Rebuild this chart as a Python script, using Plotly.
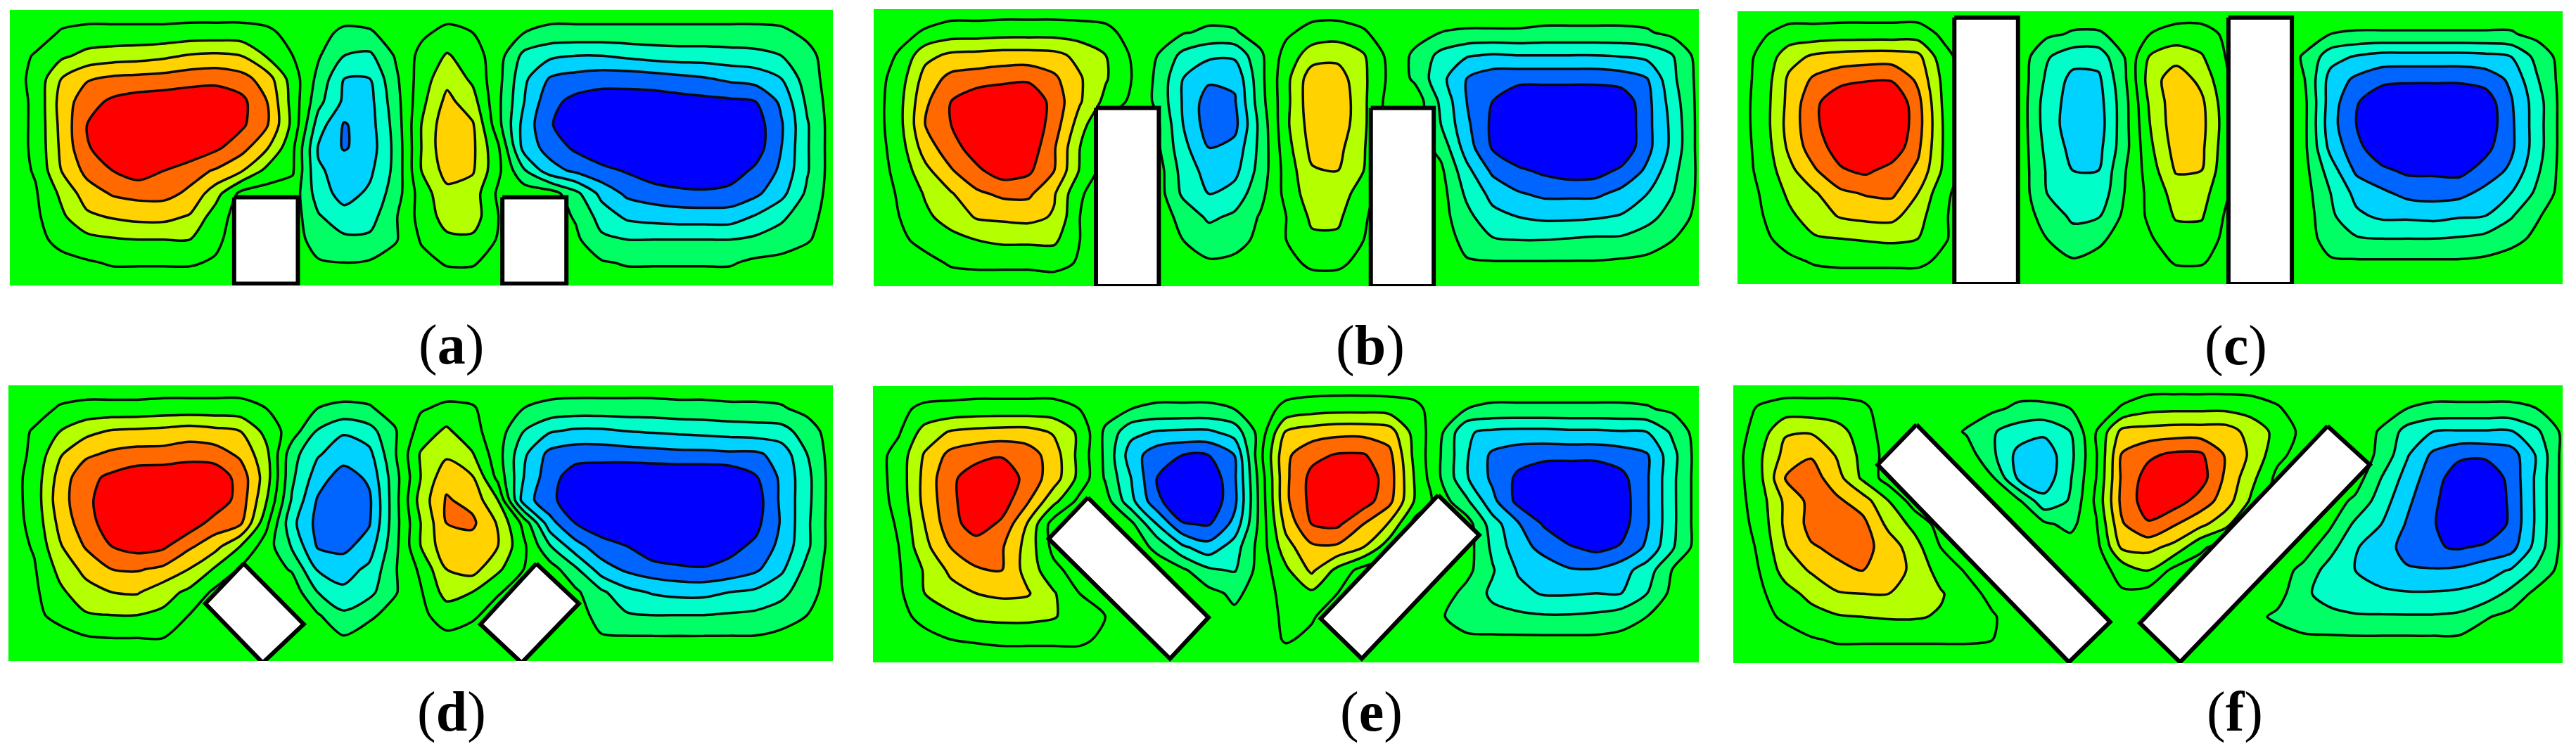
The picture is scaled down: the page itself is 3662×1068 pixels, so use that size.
import plotly.graph_objects as go

W, H = 3662, 1068
ZERO = [0] * 33

z_a = [ZERO,
[0,0,6,8,8,8,8,9,9,9,7,2,-2,-7,-6,-1,3,8,5,1,-5,-8,-8,-8,-8,-8,-8,-8,-8,-8,-7,-3,0],
[0,6,13,18,20,21,23,26,27,25,14,5,-4,-15,-17,-4,8,16,10,-1,-18,-23,-25,-25,-23,-21,-20,-20,-19,-18,-15,-8,0],
[0,8,25,34,37,38,39,41,42,39,30,10,-8,-25,-25,-7,10,22,13,-2,-23,-36,-39,-41,-41,-40,-38,-36,-33,-31,-25,-10,0],
[0,7,29,41,47,50,51,52,52,48,35,11,-12,-27,-28,-9,12,28,19,-3,-25,-42,-48,-50,-50,-50,-49,-48,-47,-45,-33,-13,0],
[0,7,28,45,52,55,55,55,53,47,36,12,-20,-36,-29,-11,15,32,26,-2,-29,-44,-52,-55,-56,-56,-56,-56,-55,-50,-36,-16,0],
[0,7,27,44,51,54,55,54,47,39,26,7,-26,-36,-30,-12,15,33,27,6,-29,-39,-47,-53,-55,-56,-56,-56,-56,-50,-35,-16,0],
[0,6,25,38,45,50,45,39,34,26,12,6,-24,-28,-27,-12,15,29,26,7,-14,-31,-37,-42,-46,-51,-54,-54,-50,-43,-33,-16,0],
[0,4,17,30,36,38,38,33,19,2,0,1,-20,-29,-23,-10,10,22,20,3,1,0,-12,-28,-37,-40,-42,-43,-42,-37,-28,-13,0],
[0,3,13,23,26,28,28,24,10,0,0,0,-14,-21,-19,-6,9,19,20,5,0,0,-6,-19,-27,-29,-30,-30,-30,-24,-17,-9,0],
[0,2,8,12,14,15,15,15,7,0,0,0,-10,-13,-13,-6,6,13,13,4,0,0,-3,-13,-15,-15,-15,-15,-15,-13,-10,-6,0],
[0,0,2,4,6,6,6,6,4,0,0,0,-4,-5,-4,0,2,6,6,1,0,0,0,-4,-6,-6,-6,-6,-6,-3,-2,0,0],
ZERO]

z_b = [ZERO,
[0,2,6,10,10,11,11,11,10,8,1,0,-4,-7,-6,0,3,9,10,6,0,-1,-5,-6,-6,-6,-7,-7,-7,-7,-6,-2,0],
[0,6,22,27,28,29,29,28,22,15,4,-5,-18,-23,-23,-7,9,20,22,16,2,-7,-18,-24,-26,-25,-25,-25,-25,-24,-22,-15,-1],
[0,10,29,38,40,42,43,37,26,16,5,-7,-25,-33,-33,-8,12,31,30,17,3,-7,-22,-35,-41,-42,-42,-42,-42,-40,-35,-17,-2],
[0,12,33,45,52,54,54,41,26,12,3,-7,-26,-40,-36,-9,12,32,33,17,1,1,-17,-35,-45,-52,-53,-53,-53,-52,-38,-20,-2],
[0,12,35,45,53,55,54,40,20,2,0,-3,-25,-40,-38,-12,13,30,32,17,0,0,-15,-33,-47,-54,-55,-55,-55,-54,-38,-22,-2],
[0,10,30,41,50,54,52,36,15,1,0,-3,-22,-35,-32,-12,11,28,28,16,0,0,-8,-30,-46,-54,-55,-55,-55,-53,-38,-22,-2],
[0,8,22,34,43,50,47,35,14,0,0,0,-19,-29,-28,-11,9,24,25,15,0,0,-3,-22,-37,-43,-47,-50,-49,-43,-33,-18,-3],
[0,6,16,24,33,37,37,26,6,0,0,0,-17,-25,-21,-8,8,21,22,8,0,0,-1,-17,-28,-34,-37,-37,-37,-32,-25,-15,-3],
[0,5,13,19,26,27,28,24,5,0,0,0,-8,-17,-13,-4,5,17,17,6,0,0,-1,-12,-22,-25,-27,-27,-26,-24,-18,-11,-2],
[0,3,8,12,15,17,17,17,5,0,0,0,-5,-9,-8,-3,5,13,13,5,0,0,0,-8,-14,-15,-15,-14,-13,-13,-10,-5,-1],
[0,0,2,6,7,7,7,8,4,0,0,0,-3,-4,-3,0,2,7,7,2,0,0,0,-4,-4,-4,-4,-4,-4,-3,-2,0,0],
ZERO]

z_c = [ZERO,
[0,4,9,9,10,10,10,10,3,0,0,0,-3,-6,-6,-2,5,9,9,3,0,0,-1,-5,-6,-6,-6,-6,-6,-6,-6,-2,0],
[0,8,21,27,29,30,30,28,8,0,0,0,-14,-21,-21,-5,16,21,16,4,0,0,-6,-21,-26,-29,-29,-29,-29,-28,-25,-12,-1],
[0,9,27,37,42,44,44,33,12,0,0,0,-17,-28,-27,-7,20,31,22,6,0,0,-5,-29,-37,-42,-43,-43,-43,-41,-33,-16,-1],
[0,10,28,43,52,55,55,38,13,0,0,0,-20,-29,-29,-9,17,31,27,8,0,0,-3,-30,-44,-53,-55,-55,-55,-51,-36,-20,-1],
[0,10,29,43,53,57,56,39,14,0,0,0,-20,-30,-30,-9,15,31,28,9,0,0,-3,-31,-45,-56,-57,-57,-57,-52,-37,-20,-1],
[0,9,27,41,49,54,52,37,14,0,0,0,-18,-28,-28,-9,13,29,27,8,0,0,-3,-28,-42,-52,-56,-56,-55,-48,-37,-20,-1],
[0,8,22,34,44,47,41,33,13,0,0,0,-16,-25,-25,-6,10,26,25,7,0,0,-2,-20,-37,-43,-47,-47,-48,-41,-33,-17,-1],
[0,6,17,24,33,36,37,25,7,0,0,0,-15,-23,-22,-5,8,19,19,6,0,0,-1,-15,-28,-33,-38,-39,-38,-32,-25,-13,-1],
[0,5,13,20,26,28,28,19,6,0,0,0,-9,-17,-16,-3,7,16,16,3,0,0,0,-13,-23,-27,-27,-28,-26,-25,-16,-6,0],
[0,3,9,14,15,16,17,15,6,0,0,0,-5,-11,-7,-1,4,11,11,2,0,0,-1,-9,-14,-15,-15,-15,-14,-12,-8,-3,0],
[0,0,3,6,7,7,7,7,3,0,0,0,-3,-4,-2,0,1,6,6,1,0,0,0,-4,-4,-4,-4,-4,-4,-3,-1,0,0],
ZERO]

z_d = [ZERO,
[0,1,6,8,8,8,9,9,9,9,5,0,-5,-7,-6,-1,4,7,6,0,-5,-8,-9,-9,-9,-9,-8,-8,-7,-7,-6,-2,0],
[0,6,15,22,26,27,28,30,28,25,12,0,-16,-24,-19,-6,9,17,8,0,-15,-24,-27,-27,-25,-24,-23,-22,-21,-20,-19,-10,0],
[0,7,24,33,37,39,39,41,40,33,18,-11,-24,-30,-28,-6,16,23,16,-1,-23,-38,-41,-41,-40,-39,-38,-38,-37,-37,-31,-15,0],
[0,9,29,42,47,51,52,53,52,41,20,-13,-30,-40,-33,-9,15,32,26,2,-25,-41,-50,-52,-54,-54,-54,-54,-53,-46,-33,-18,0],
[0,9,31,42,52,55,56,56,52,41,16,-16,-36,-43,-37,-9,19,36,32,15,-30,-42,-52,-54,-56,-56,-56,-56,-56,-50,-33,-18,0],
[0,8,28,41,50,54,54,51,41,37,8,-22,-38,-43,-36,-9,15,35,37,24,2,-31,-45,-51,-55,-56,-56,-56,-54,-48,-34,-17,0],
[0,6,24,36,45,49,47,37,29,15,0,-16,-36,-38,-30,-8,15,32,30,25,7,-14,-31,-41,-45,-52,-54,-54,-48,-43,-32,-17,0],
[0,4,18,28,35,36,33,25,14,4,0,-6,-26,-29,-23,-6,7,25,29,17,5,0,-13,-30,-37,-41,-43,-44,-42,-37,-27,-12,0],
[0,3,13,21,25,26,19,13,3,0,0,1,-15,-23,-18,-6,4,19,15,6,0,0,-3,-13,-22,-26,-28,-28,-25,-23,-18,-9,0],
[0,2,9,14,15,15,13,5,0,0,0,0,-4,-13,-7,-1,3,9,7,0,0,0,0,-9,-14,-15,-15,-15,-14,-13,-10,-5,0],
[0,0,0,4,5,5,5,2,0,0,0,0,-2,-4,0,0,0,3,0,0,0,0,0,-4,-4,-4,-4,-4,-4,-4,-2,0,0],
ZERO]

z_e = [ZERO,
[0,3,7,8,9,9,9,9,5,0,-5,-7,-7,-7,-5,0,8,11,12,12,11,8,-1,-5,-7,-7,-7,-7,-7,-7,-6,-3,0],
[0,4,19,26,28,29,29,24,13,-7,-22,-26,-27,-27,-21,-1,26,30,32,32,30,11,-3,-24,-27,-28,-28,-27,-27,-26,-25,-13,0],
[0,9,26,38,42,44,40,30,12,-7,-30,-41,-45,-45,-35,2,33,42,46,46,38,12,-5,-24,-37,-41,-42,-42,-42,-40,-36,-18,0],
[0,9,28,43,50,53,41,30,12,-6,-25,-45,-53,-53,-37,-1,33,48,53,52,40,14,-5,-24,-37,-47,-53,-54,-54,-48,-36,-17,0],
[0,8,28,42,53,50,36,18,2,0,-22,-42,-55,-53,-38,-2,33,48,54,50,38,14,0,-13,-32,-48,-55,-56,-56,-50,-36,-17,0],
[0,6,25,41,50,43,24,0,0,0,-2,-25,-44,-46,-32,-2,28,45,47,35,24,1,0,0,-20,-34,-46,-54,-55,-49,-36,-17,0],
[0,5,22,35,40,36,21,2,0,0,0,-7,-23,-31,-20,-1,21,33,33,25,9,0,0,0,-17,-31,-38,-44,-48,-44,-33,-16,0],
[0,4,16,27,34,35,21,8,0,0,0,0,-3,-13,-16,-1,13,27,12,1,0,0,0,-2,-14,-26,-30,-34,-34,-29,-20,-4,0],
[0,3,15,21,25,27,26,16,5,0,0,0,0,-2,-7,-1,9,13,5,0,0,0,0,-8,-17,-22,-26,-26,-25,-25,-15,-2,0],
[0,2,8,13,17,18,18,16,9,5,0,0,0,0,-3,0,7,6,0,0,0,0,-4,-10,-12,-13,-14,-14,-13,-10,-5,0,0],
[0,0,2,5,6,7,7,7,7,3,0,0,0,0,0,0,6,3,0,0,0,0,-1,-3,-3,-3,-3,-3,-3,-2,0,0,0],
ZERO]

z_f = [ZERO,
[0,6,9,9,9,7,0,0,0,0,-3,-7,-7,-5,0,6,12,13,13,13,11,6,0,0,0,-1,-5,-7,-7,-7,-7,-5,0],
[0,9,24,24,19,10,0,0,0,-6,-14,-20,-23,-15,5,28,29,30,30,30,21,12,2,0,0,-6,-19,-25,-26,-26,-26,-17,-3],
[0,13,28,34,24,12,1,0,0,0,-13,-28,-31,-18,4,36,43,47,47,34,23,8,0,0,0,-7,-24,-37,-43,-43,-40,-24,-2],
[0,12,35,40,29,13,0,0,0,0,-4,-27,-31,-16,5,37,49,53,50,33,18,2,0,0,0,-15,-29,-41,-50,-53,-42,-23,-2],
[0,10,27,38,37,30,15,0,0,0,0,-3,-22,-14,7,38,50,50,41,30,13,0,0,0,-7,-20,-33,-43,-52,-55,-43,-23,-2],
[0,8,27,38,39,38,22,12,1,0,0,0,-3,-8,4,34,44,36,28,18,1,0,0,-3,-17,-25,-36,-44,-53,-55,-43,-23,-2],
[0,6,24,34,37,38,31,19,5,0,0,0,0,0,1,27,28,22,7,0,0,0,0,-11,-24,-31,-38,-44,-46,-43,-39,-21,-2],
[0,5,19,26,33,35,31,22,11,4,0,0,0,0,1,8,15,2,0,0,0,0,-8,-19,-25,-30,-34,-34,-33,-29,-24,-13,-1],
[0,3,11,18,24,25,25,21,16,9,2,0,0,0,0,4,1,0,0,0,0,-1,-13,-19,-21,-23,-24,-24,-23,-21,-12,-2,0],
[0,1,7,11,14,15,16,16,14,10,6,0,0,0,0,0,0,0,0,0,-2,-7,-10,-12,-14,-14,-14,-14,-13,-6,-2,0,0],
[0,0,0,4,6,6,6,6,6,6,5,0,0,0,0,0,0,0,0,0,0,0,-3,-3,-3,-3,-3,-3,-3,0,0,0,0],
ZERO]

block_a1_x = [8.72, 11.2, 11.2, 8.72, 8.72]
block_a1_y = [8.16, 8.16, 11.92, 11.92, 8.16]
block_a2_x = [19.15, 21.64, 21.64, 19.15, 19.15]
block_a2_y = [8.16, 8.16, 11.92, 11.92, 8.16]
block_b1_x = [8.62, 11.06, 11.06, 8.62, 8.62]
block_b1_y = [4.28, 4.28, 12.0, 12.0, 4.28]
block_b2_x = [19.28, 21.72, 21.72, 19.28, 19.28]
block_b2_y = [4.28, 4.28, 12.0, 12.0, 4.28]
block_c1_x = [8.41, 10.88, 10.88, 8.41, 8.41]
block_c1_y = [0.28, 0.28, 12.0, 12.0, 0.28]
block_c2_x = [19.04, 21.5, 21.5, 19.04, 19.04]
block_c2_y = [0.28, 0.28, 12.0, 12.0, 0.28]
block_d1_x = [9.13, 11.46, 9.87, 7.64, 9.13]
block_d1_y = [7.76, 10.4, 12.08, 9.5, 7.76]
block_d2_x = [20.49, 22.14, 19.92, 18.32, 20.49]
block_d2_y = [7.76, 9.5, 12.08, 10.4, 7.76]
block_e1_x = [8.33, 13.0, 11.51, 6.81, 8.33]
block_e1_y = [4.84, 10.05, 11.84, 6.63, 4.84]
block_e2_x = [21.9, 23.49, 18.94, 17.35, 21.9]
block_e2_y = [4.74, 6.47, 11.84, 10.1, 4.74]
block_f1_x = [7.07, 14.54, 12.95, 5.57, 7.07]
block_f1_y = [1.70, 10.22, 11.96, 3.43, 1.70]
block_f2_x = [22.93, 24.56, 17.24, 15.69, 22.93]
block_f2_y = [1.76, 3.43, 11.96, 10.27, 1.76]

labels = ["a", "b", "c", "d", "e", "f"]
band_colours = ["rgb(0,0,255)", "rgb(0,100,255)", "rgb(0,210,255)", "rgb(0,255,200)", "rgb(0,255,100)",
                "rgb(0,255,0)", "rgb(0,255,0)", "rgb(180,255,0)", "rgb(255,210,0)", "rgb(255,105,0)", "rgb(255,0,0)"]

grids = [z_a, z_b, z_c, z_d, z_e, z_f]
blocks = [
    [(block_a1_x, block_a1_y), (block_a2_x, block_a2_y)],
    [(block_b1_x, block_b1_y), (block_b2_x, block_b2_y)],
    [(block_c1_x, block_c1_y), (block_c2_x, block_c2_y)],
    [(block_d1_x, block_d1_y), (block_d2_x, block_d2_y)],
    [(block_e1_x, block_e1_y), (block_e2_x, block_e2_y)],
    [(block_f1_x, block_f1_y), (block_f2_x, block_f2_y)],
]
# panel boxes in page pixels: left, right, top, bottom
boxes = [(14, 1184, 14, 406), (1242, 2415, 13, 407), (2470, 3643, 16, 404),
         (12, 1184, 548, 940), (1241, 2415, 549, 942), (2464, 3643, 548, 943)]
label_pos = [(641, 490), (1948, 491), (3178, 491), (642, 1012), (1949, 1012), (3177, 1012)]

n = len(band_colours)
colorscale = [[k / (n - 1), c] for k, c in enumerate(band_colours)]

fig = go.Figure()
layout = dict(width=W, height=H, margin=dict(l=0, r=0, t=0, b=0), paper_bgcolor="white",
              plot_bgcolor="white", showlegend=False, annotations=[])
for k, (z, pair, box, name, pos) in enumerate(zip(grids, blocks, boxes, labels, label_pos), start=1):
    xa, ya = f"x{k}", f"y{k}"
    fig.add_trace(go.Contour(z=z, xaxis=xa, yaxis=ya, colorscale=colorscale, zmin=-50, zmax=50,
                             showscale=False, hoverinfo="skip",
                             contours=dict(start=-45, end=45, size=10, coloring="fill"),
                             line=dict(color="#0a0a0a", width=3.5, smoothing=0.8)))
    for bx, by in pair:
        fig.add_trace(go.Scatter(x=bx, y=by, xaxis=xa, yaxis=ya, mode="lines", fill="toself",
                                 fillcolor="white", line=dict(color="black", width=6),
                                 cliponaxis=False, hoverinfo="skip"))
    l, r, t, b = box
    layout[f"xaxis{k}"] = dict(domain=[l / W, r / W], range=[0, 32], visible=False, anchor=ya)
    layout[f"yaxis{k}"] = dict(domain=[1 - b / H, 1 - t / H], range=[12, 0], visible=False, anchor=xa)
    layout["annotations"].append(dict(text=f"(<b>{name}</b>)", xref="paper", yref="paper",
                                      x=pos[0] / W, y=1 - pos[1] / H, xanchor="center", yanchor="middle",
                                      showarrow=False,
                                      font=dict(family="Liberation Serif", size=80, color="black")))
fig.update_layout(**layout)
fig.write_html("out.html", config={"displayModeBar": False},
               post_script="document.body.style.margin='0';")
